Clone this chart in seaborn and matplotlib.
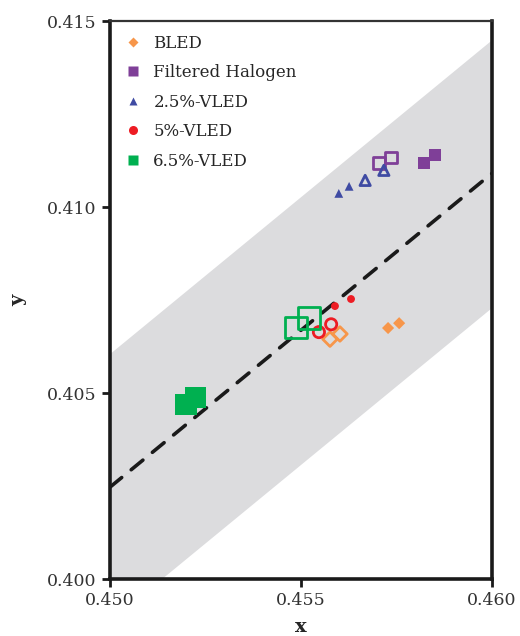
# Chromaticity scatter: lamp sources vs. reference line with tolerance band
import numpy as np
import pandas as pd
import seaborn as sns
import matplotlib.pyplot as plt

sns.set_style('ticks')
plt.rcParams['font.family'] = ['DejaVu Serif']

# Data (filled = one condition, open = the other)
bled_x = [0.45728, 0.45757]
bled_y = [0.40675, 0.40688]
bled_open_x = [0.45576, 0.45602]
bled_open_y = [0.40645, 0.40659]

halogen_x = [0.45822, 0.45851]
halogen_y = [0.41118, 0.41140]
halogen_open_x = [0.45704, 0.45736]
halogen_open_y = [0.41118, 0.41134]

vled25_x = [0.45599, 0.45626]
vled25_y = [0.41037, 0.41056]
vled25_open_x = [0.45668, 0.45717]
vled25_open_y = [0.41072, 0.41099]

vled5_x = [0.45589, 0.45631]
vled5_y = [0.40734, 0.40753]
vled5_open_x = [0.45547, 0.45579]
vled5_open_y = [0.40664, 0.40685]

vled65_x = [0.45199, 0.45225]
vled65_y = [0.40470, 0.40489]
vled65_open_x = [0.45487, 0.45521]
vled65_open_y = [0.40677, 0.40702]

# reference line end points and band half-width
line_x = [0.450, 0.460]
line_y = [0.40247, 0.41091]
band_half = 0.0036

fig = plt.figure(figsize=(5.2, 6.36), dpi=100)
ax = fig.add_axes([0.2115, 0.0896, 0.7346, 0.877])

ax.fill_between(line_x, [v - band_half for v in line_y], [v + band_half for v in line_y],
                color='#dcdcde', lw=0, zorder=0)
sns.lineplot(x=line_x, y=line_y, ax=ax, color='#1a1a1a', lw=2.6,
             linestyle=(0, (4.2, 3.4)), dash_capstyle='round', zorder=1)

series = [
    ('BLED', bled_x, bled_y, bled_open_x, bled_open_y, '#f7964a', 'D', 38, 55),
    ('Filtered Halogen', halogen_x, halogen_y, halogen_open_x, halogen_open_y, '#7f3f98', 's', 70, 70),
    ('2.5%-VLED', vled25_x, vled25_y, vled25_open_x, vled25_open_y, '#3f4ba3', '^', 40, 55),
    ('5%-VLED', vled5_x, vled5_y, vled5_open_x, vled5_open_y, '#ed1c24', 'o', 32, 65),
    ('6.5%-VLED', vled65_x, vled65_y, vled65_open_x, vled65_open_y, '#00b050', 's', 230, 230),
]

for name, fx, fy, ox, oy, col, mk, s_fill, s_open in series:
    sns.scatterplot(x=fx, y=fy, ax=ax, color=col, marker=mk, s=s_fill,
                    edgecolor='none', zorder=3)
    ax.scatter(ox, oy, facecolor='none', edgecolor=col, marker=mk, s=s_open,
               linewidths=2, zorder=3)

handles = [plt.Line2D([], [], linestyle='none', marker=s[6], color=s[5],
                      markersize=ms, markeredgecolor='none')
           for s, ms in zip(series, [5.5, 6.5, 5.5, 6.5, 6.5])]
ax.legend(handles, [s[0] for s in series], loc='upper left', frameon=False,
          fontsize=12, labelspacing=0.75, handletextpad=0.6,
          borderaxespad=0.4, handlelength=1.2)

ax.set_xlim(0.450, 0.460)
ax.set_ylim(0.400, 0.415)
ax.set_xticks([0.450, 0.455, 0.460])
ax.set_yticks([0.400, 0.405, 0.410, 0.415])
ax.set_xticklabels(['0.450', '0.455', '0.460'])
ax.set_yticklabels(['0.400', '0.405', '0.410', '0.415'])
ax.tick_params(labelsize=12.5, width=2, length=6, colors='#1a1a1a',
               labelcolor='#333333')
ax.set_xlabel('x', fontsize=14, fontweight='bold', labelpad=6)
ax.set_ylabel('y', fontsize=14, fontweight='bold', labelpad=14)

for side in ['left', 'bottom', 'right']:
    ax.spines[side].set_linewidth(2.6)
    ax.spines[side].set_color('#1a1a1a')
ax.spines['top'].set_linewidth(1.6)
ax.spines['top'].set_color('#333333')

fig.savefig('out.png', dpi=100)
